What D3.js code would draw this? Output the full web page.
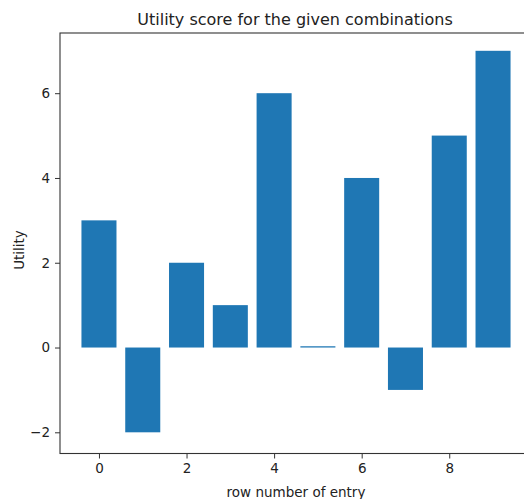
<!DOCTYPE html>
<html>
<head>
<meta charset="utf-8">
<script src="https://cdn.jsdelivr.net/npm/d3@7"></script>
<style>
  body { margin: 0; background: #fff; }
  text { font-family: "DejaVu Sans", sans-serif; fill: #222; }
</style>
</head>
<body>
<div id="chart"></div>
<script>
// data
var rows = [0, 1, 2, 3, 4, 5, 6, 7, 8, 9];
var utility = [3, -2, 2, 1, 6, 0.03, 4, -1, 5, 7];
var xTicks = [0, 2, 4, 6, 8];
var yTicks = [-2, 0, 2, 4, 6];
var yLimits = [-2.5, 7.42];

var width = 524, height = 499,
    margin = {top: 33, right: -8, bottom: 45.5, left: 60};

var svg = d3.select("#chart").append("svg")
    .attr("width", width)
    .attr("height", height);

var barWidth = 0.8;
// matplotlib style 5% margins on x
var xMin = d3.min(rows) - barWidth / 2, xMax = d3.max(rows) + barWidth / 2;
var xPad = (xMax - xMin) * 0.05;

var x = d3.scaleLinear()
    .domain([xMin - xPad, xMax + xPad])
    .range([margin.left, width - margin.right]);

var y = d3.scaleLinear()
    .domain(yLimits)
    .range([height - margin.bottom, margin.top]);

// bars
svg.append("g").selectAll("rect")
    .data(rows)
    .enter().append("rect")
    .attr("x", function(d){ return x(d - barWidth / 2); })
    .attr("width", function(d){ return x(d + barWidth / 2) - x(d - barWidth / 2); })
    .attr("y", function(d, i){ return y(Math.max(0, utility[i])); })
    .attr("height", function(d, i){ return Math.abs(y(utility[i]) - y(0)); })
    .style("fill", "#1f77b4");

// axes
var xAxis = d3.axisBottom(x).tickValues(xTicks).tickSize(5).tickPadding(5).tickFormat(d3.format("d"));
var gx = svg.append("g")
    .attr("transform", "translate(0," + (height - margin.bottom) + ")")
    .call(xAxis);

var yAxis = d3.axisLeft(y).tickValues(yTicks).tickSize(5).tickPadding(5)
    .tickFormat(function(d){ return d < 0 ? "\u2212" + Math.abs(d) : d; });
var gy = svg.append("g")
    .attr("transform", "translate(" + margin.left + ",0)")
    .call(yAxis);

[gx, gy].forEach(function(g){
    g.select(".domain").remove();
    g.selectAll("line").attr("stroke", "#333");
    g.selectAll("text").style("font-size", "13.5px").style("fill", "#222");
});

// spines
svg.append("rect")
    .attr("x", margin.left)
    .attr("y", margin.top)
    .attr("width", width - margin.right - margin.left)
    .attr("height", height - margin.bottom - margin.top)
    .attr("fill", "none")
    .attr("stroke", "#333")
    .attr("stroke-width", 1.1);

// title and labels
svg.append("text")
    .attr("x", 295)
    .attr("y", 25)
    .attr("text-anchor", "middle")
    .style("font-size", "16px")
    .text("Utility score for the given combinations");

svg.append("text")
    .attr("x", 296)
    .attr("y", 497)
    .attr("text-anchor", "middle")
    .style("font-size", "13.5px")
    .text("row number of entry");

svg.append("text")
    .attr("transform", "translate(23.5," + 250 + ") rotate(-90)")
    .attr("text-anchor", "middle")
    .style("font-size", "13.5px")
    .text("Utility");
</script>
</body>
</html>
